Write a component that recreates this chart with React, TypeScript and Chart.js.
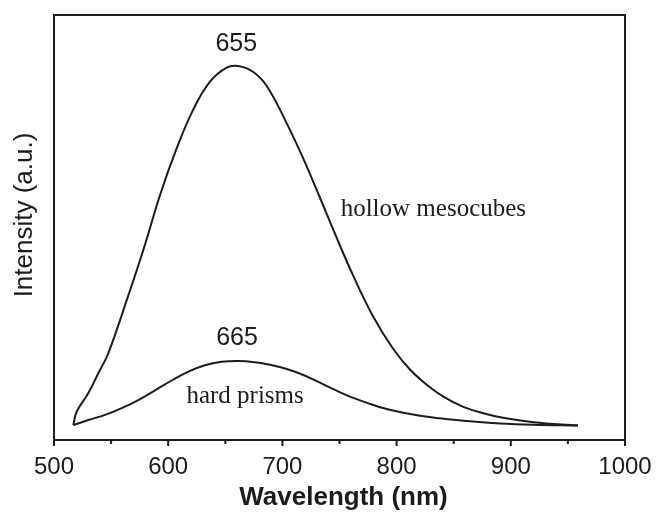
import React, { useEffect, useRef } from "react";
import { Chart, registerables } from "chart.js";

Chart.register(...registerables);

// Wavelength (nm) and intensity (a.u., 0-100 of plot height)
const hollowWavelength = [516.9, 519.9, 530, 538.8, 547.5, 563.7, 578.2, 592.8, 607.4, 622, 636.6, 651.2, 661.4, 674.5, 686.3, 703.8, 718.3, 732.9, 747.5, 762.1, 779.6, 797.1, 811.7, 826.4, 840.9, 858.4, 875.9, 892, 919.7, 958.8];
const hollowIntensity = [3.5, 6.7, 11, 15.7, 20.4, 32.9, 44.7, 57.6, 68.6, 77.8, 84.3, 87.6, 88.0, 86.6, 83.3, 74.5, 66.2, 57.0, 47.6, 38.6, 29.0, 21.4, 16.6, 13.0, 10.2, 7.8, 6.3, 5.3, 4.2, 3.4];

const prismWavelength = [516.9, 530, 544.7, 559.3, 573.8, 588.4, 603.1, 617.6, 632.2, 646.8, 661.4, 676, 689.1, 703.8, 718.3, 732.9, 747.5, 762.1, 776.7, 791.3, 805.9, 820.5, 835.1, 864.3, 890.5, 919.7, 958.8];
const prismIntensity = [3.5, 4.7, 5.9, 7.5, 9.4, 11.7, 14.0, 16.1, 17.6, 18.4, 18.6, 18.3, 17.7, 16.7, 15.3, 13.5, 11.6, 9.9, 8.5, 7.3, 6.4, 5.7, 5.2, 4.4, 3.9, 3.6, 3.4];

const xTicksMajor = [500, 600, 700, 800, 900, 1000];
const xTicksMinor = [550, 650, 750, 850, 950];

const annotationTexts = ["655", "665", "hollow mesocubes", "hard prisms"];
const annotationWavelength = [659.6, 660.3, 832.2, 667.3];
const annotationIntensity = [91.5, 22.4, 52.7, 8.7];
const annotationFonts = [
  "25px 'Liberation Sans', Arial, sans-serif",
  "25px 'Liberation Sans', Arial, sans-serif",
  "25px 'Liberation Serif', 'Times New Roman', serif",
  "25px 'Liberation Serif', 'Times New Roman', serif",
];

const xTitle = "Wavelength (nm)";
const yTitle = "Intensity (a.u.)";

const INK = "#1c1c1c";

const framePlugin = {
  id: "framePlugin",
  afterDraw(chart: any) {
    const { ctx, chartArea } = chart;
    const xs = chart.scales.x;
    const ys = chart.scales.y;
    ctx.save();
    // frame
    ctx.strokeStyle = INK;
    ctx.lineWidth = 2;
    ctx.strokeRect(chartArea.left, chartArea.top, chartArea.right - chartArea.left, chartArea.bottom - chartArea.top);
    // ticks (outward)
    xTicksMajor.forEach((v) => {
      const px = xs.getPixelForValue(v);
      ctx.beginPath();
      ctx.moveTo(px, chartArea.bottom);
      ctx.lineTo(px, chartArea.bottom + 6);
      ctx.stroke();
    });
    xTicksMinor.forEach((v) => {
      const px = xs.getPixelForValue(v);
      ctx.beginPath();
      ctx.moveTo(px, chartArea.bottom);
      ctx.lineTo(px, chartArea.bottom + 4);
      ctx.stroke();
    });
    // annotations
    ctx.fillStyle = INK;
    ctx.textAlign = "center";
    ctx.textBaseline = "alphabetic";
    annotationTexts.forEach((t, i) => {
      ctx.font = annotationFonts[i];
      ctx.fillText(t, xs.getPixelForValue(annotationWavelength[i]), ys.getPixelForValue(annotationIntensity[i]));
    });
    // y title
    ctx.font = "26px 'Liberation Sans', Arial, sans-serif";
    ctx.textBaseline = "middle";
    ctx.translate(25, 215);
    ctx.rotate(-Math.PI / 2);
    ctx.fillText(yTitle, 0, 0);
    ctx.restore();
    // x title
    ctx.save();
    ctx.fillStyle = INK;
    ctx.font = "bold 26px 'Liberation Sans', Arial, sans-serif";
    ctx.textAlign = "center";
    ctx.textBaseline = "middle";
    ctx.fillText(xTitle, (chartArea.left + chartArea.right) / 2 + 4, 498);
    ctx.restore();
  },
};

export default function App() {
  const canvasRef = useRef<HTMLCanvasElement | null>(null);

  useEffect(() => {
    document.body.style.margin = "0";
    const canvas = canvasRef.current;
    if (!canvas) return;
    const chart = new Chart(canvas, {
      type: "line",
      data: {
        datasets: [
          {
            label: "hollow mesocubes",
            data: hollowWavelength.map((x, i) => ({ x, y: hollowIntensity[i] })),
            borderColor: INK,
            borderWidth: 2,
            pointRadius: 0,
            tension: 0.4,
            fill: false,
          },
          {
            label: "hard prisms",
            data: prismWavelength.map((x, i) => ({ x, y: prismIntensity[i] })),
            borderColor: INK,
            borderWidth: 2,
            pointRadius: 0,
            tension: 0.4,
            fill: false,
          },
        ],
      },
      options: {
        animation: false,
        responsive: false,
        maintainAspectRatio: false,
        devicePixelRatio: 1,
        layout: { padding: { left: 54, right: 31, top: 15, bottom: 0 } },
        plugins: { legend: { display: false }, tooltip: { enabled: false } },
        scales: {
          x: {
            type: "linear",
            min: 500,
            max: 1000,
            grid: { display: false, drawTicks: false },
            border: { display: false },
            ticks: {
              stepSize: 100,
              autoSkip: false,
              maxRotation: 0,
              padding: 13,
              color: INK,
              font: { family: "'Liberation Sans', Arial, sans-serif", size: 24 },
              callback: (v: any) => String(v),
            },
            afterFit: (scale: any) => {
              scale.height = 72;
              scale.paddingLeft = 0;
              scale.paddingRight = 0;
            },
          },
          y: {
            type: "linear",
            min: 0,
            max: 100,
            display: false,
          },
        },
      } as any,
      plugins: [framePlugin],
    });
    return () => chart.destroy();
  }, []);

  return (
    <div style={{ width: 656, height: 512, background: "#fff" }}>
      <canvas ref={canvasRef} width={656} height={512} style={{ display: "block" }} />
    </div>
  );
}
